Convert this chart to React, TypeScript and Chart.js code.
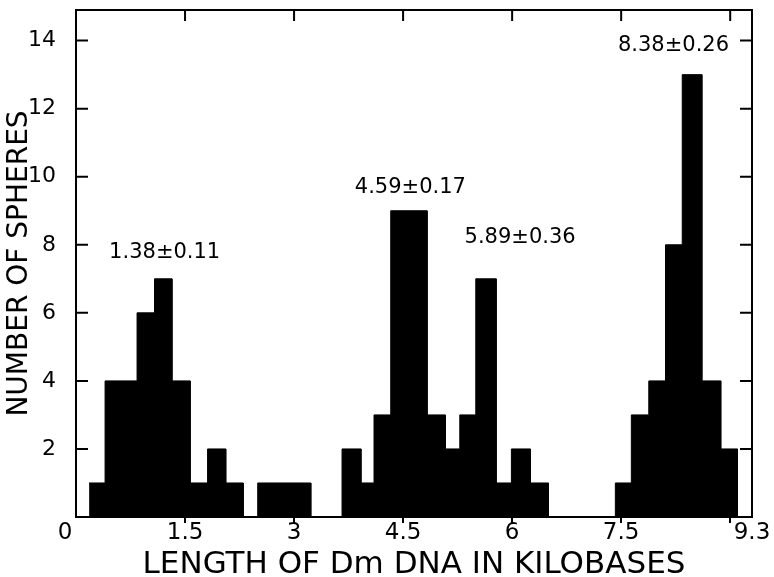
import React, { useEffect, useRef } from "react";
import { Chart, registerables } from "chart.js";

Chart.register(...registerables);

// Histogram bins: edges in kilobases and the number of spheres in each bin
const binEdges = [
  0.18, 0.4, 0.84, 1.08, 1.32, 1.57, 1.81, 2.06, 2.3, 2.5, 3.23, 3.66, 3.92,
  4.1, 4.33, 4.83, 5.08, 5.28, 5.5, 5.78, 5.99, 6.25, 6.5, 7.42, 7.64, 7.88,
  8.11, 8.34, 8.61, 8.87, 9.1,
];
const sphereCounts = [
  1, 4, 6, 7, 4, 1, 2, 1, 0, 1, 0, 2, 1, 3, 9, 3, 2, 3, 7, 1, 2, 1, 0, 1, 3, 4,
  8, 13, 4, 2,
];

// Axis ticks
const xTickValues = [0, 1.5, 3, 4.5, 6, 7.5, 9, 9.3];
const xTickLabels = ["0", "1.5", "3", "4.5", "6", "7.5", "", "9.3"];
const yTickValues = [2, 4, 6, 8, 10, 12, 14];

// Peak annotations (mean ± s.d.), anchored in data units
const peakLabels = ["1.38±0.11", "4.59±0.17", "5.89±0.36", "8.38±0.26"];
const peakLabelX = [1.22, 4.6, 6.11, 8.22];
const peakLabelY = [7.76, 9.67, 8.2, 13.87];

const FONT = "'DejaVu Sans', 'Liberation Sans', sans-serif";

const framePlugin = {
  id: "frameAndLabels",
  afterDatasetsDraw(chart: any) {
    const { ctx, chartArea: a, scales } = chart;
    const xs = scales.x;
    const ys = scales.y;
    ctx.save();
    ctx.strokeStyle = "#000";
    ctx.lineWidth = 2;
    ctx.beginPath();
    ctx.moveTo(a.left, a.top);
    ctx.lineTo(a.right, a.top);
    ctx.lineTo(a.right, a.bottom);
    for (const v of yTickValues) {
      const py = ys.getPixelForValue(v);
      ctx.moveTo(a.left, py);
      ctx.lineTo(a.left + 12, py);
      ctx.moveTo(a.right, py);
      ctx.lineTo(a.right - 12, py);
    }
    for (const v of xTickValues) {
      if (v <= 0 || v >= 9.3) continue;
      const px = xs.getPixelForValue(v);
      ctx.moveTo(px, a.top);
      ctx.lineTo(px, a.top + 11);
    }
    ctx.stroke();

    ctx.fillStyle = "#000";
    ctx.font = `21px ${FONT}`;
    ctx.textAlign = "center";
    ctx.textBaseline = "middle";
    peakLabels.forEach((t, i) => {
      ctx.fillText(
        t,
        xs.getPixelForValue(peakLabelX[i]),
        ys.getPixelForValue(peakLabelY[i])
      );
    });
    ctx.restore();
  },
};

export default function App() {
  const canvasRef = useRef<HTMLCanvasElement | null>(null);

  useEffect(() => {
    if (!canvasRef.current) return;

    const points: { x: number; y: number }[] = [];
    sphereCounts.forEach((c, i) => {
      points.push({ x: binEdges[i], y: c });
      points.push({ x: binEdges[i + 1], y: c });
    });
    points.push({ x: binEdges[binEdges.length - 1], y: 0 });

    const chart = new Chart(canvasRef.current, {
      type: "line",
      data: {
        datasets: [
          {
            data: points,
            fill: "origin",
            backgroundColor: "#000",
            borderColor: "#000",
            borderWidth: 1,
            pointRadius: 0,
            tension: 0,
          },
        ],
      },
      options: {
        animation: false,
        responsive: false,
        devicePixelRatio: 1,
        layout: { padding: { top: 10, right: 22, left: 0, bottom: 0 } },
        plugins: {
          legend: { display: false },
          tooltip: { enabled: false },
        },
        scales: {
          x: {
            type: "linear",
            min: 0,
            max: 9.3,
            afterBuildTicks: (scale: any) => {
              scale.ticks = xTickValues.map((v) => ({ value: v }));
            },
            afterFit: (scale: any) => {
              scale.height = 60;
              scale.paddingLeft = 0;
              scale.paddingRight = 0;
            },
            ticks: {
              autoSkip: false,
              maxRotation: 0,
              padding: -4,
              color: "#000",
              font: { family: FONT, size: 23 },
              callback: (value: any) => {
                const i = xTickValues.indexOf(Number(value));
                const label = i >= 0 ? xTickLabels[i] : "";
                return Number(value) === 0 ? label + "   " : label;
              },
            },
            grid: {
              display: true,
              drawOnChartArea: false,
              drawTicks: true,
              tickLength: 6,
              lineWidth: 2,
              color: (ctx: any) =>
                ctx.tick && (ctx.tick.value >= 9.3 || ctx.tick.value <= 0)
                  ? "rgba(0,0,0,0)"
                  : "#000",
            },
            border: { display: true, color: "#000", width: 2 },
            title: {
              display: true,
              text: "LENGTH OF Dm DNA IN KILOBASES",
              color: "#000",
              font: { family: FONT, size: 31, lineHeight: 1 },
              padding: { top: 0, bottom: -3 },
            },
          },
          y: {
            type: "linear",
            min: 0,
            max: 14.9,
            afterBuildTicks: (scale: any) => {
              scale.ticks = yTickValues.map((v) => ({ value: v }));
            },
            afterFit: (scale: any) => {
              scale.width = 76;
              scale.paddingTop = 0;
              scale.paddingBottom = 0;
            },
            ticks: {
              padding: 20,
              color: "#000",
              font: { family: FONT, size: 22 },
              callback: (value: any) => String(value),
            },
            grid: { display: false, drawTicks: false, tickLength: 0 },
            border: { display: true, color: "#000", width: 2 },
            title: {
              display: true,
              text: "NUMBER OF SPHERES",
              color: "#000",
              font: { family: FONT, size: 28, lineHeight: 1 },
              padding: { top: 6, bottom: 0 },
            },
          },
        },
      },
      plugins: [framePlugin],
    });

    return () => {
      chart.destroy();
    };
  }, []);

  return (
    <div
      style={{
        position: "absolute",
        left: 0,
        top: 0,
        width: 774,
        height: 577,
        background: "#fff",
      }}
    >
      <canvas
        ref={canvasRef}
        width={774}
        height={577}
        style={{ display: "block", width: 774, height: 577 }}
      />
    </div>
  );
}
